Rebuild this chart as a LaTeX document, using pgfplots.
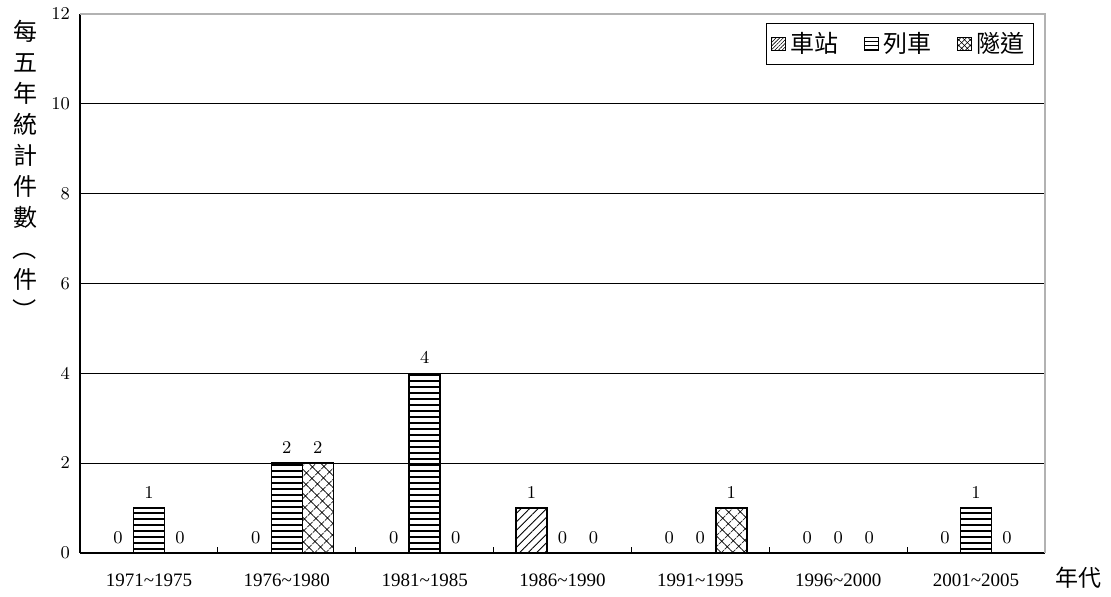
\documentclass[border=0pt]{standalone}
\usepackage{fontspec}
\usepackage{graphicx}
\setmainfont{Liberation Serif}
\newfontfamily\cjk{Noto Sans CJK TC}
\usepackage{pgfplots}
\pgfplotsset{compat=1.18}
\usetikzlibrary{patterns.meta}

\tikzset{
  stationfill/.style={pattern={Lines[angle=45,distance=3pt,line width=0.45pt]}, pattern color=black},
  trainfill/.style={pattern={Lines[angle=0,distance=3pt,line width=0.7pt]}, pattern color=black},
  tunnelfill/.style={pattern={Hatch[angle=45,distance=4pt,line width=0.45pt]}, pattern color=black},
}
% vertical-style brackets for the stacked axis title
\newcommand\vopen{\rotatebox[origin=c]{-90}{（}}
\newcommand\vclose{\rotatebox[origin=c]{-90}{）}}

\begin{document}
\begin{tikzpicture}
\begin{axis}[
  scale only axis, width=482.5pt, height=269.5pt,
  xmin=-0.5, xmax=6.5, ymin=0, ymax=12,
  ybar=0pt, bar width=15.5pt,
  axis x line*=bottom, axis y line*=left,
  axis line style={black, line width=0.6pt},
  tick align=inside,
  xtick={0,...,6},
  xticklabels={1971\textasciitilde 1975,1976\textasciitilde 1980,1981\textasciitilde 1985,1986\textasciitilde 1990,1991\textasciitilde 1995,1996\textasciitilde 2000,2001\textasciitilde 2005},
  major x tick style={draw=none},
  minor xtick={0.5,1.5,...,5.5},
  minor tick length=3pt,
  major tick length=2.5pt,
  tick style={black, line width=0.6pt},
  ytick={0,2,...,10},
  extra y ticks={12},
  extra y tick style={grid=none},
  ymajorgrids,
  grid style={black, line width=0.5pt},
  ticklabel style={font=\fontsize{9.5}{10}\selectfont},
  xticklabel style={yshift=-7pt},
  yticklabel style={xshift=-1.5pt},
  nodes near coords,
  every node near coord/.append style={anchor=south, font=\fontsize{9.5}{10}\selectfont, yshift=1pt},
  legend columns=3,
  legend style={at={(0.9886,0.9833)}, anchor=north east, draw=black, line width=0.6pt,
    font=\cjk\fontsize{12}{14}\selectfont, inner sep=2.5pt,
    /tikz/every odd column/.append style={column sep=0.5pt},
    /tikz/every even column/.append style={column sep=11pt}},
  legend image code/.code={\draw[#1, line width=0.4pt] (0pt,-3.3pt) rectangle (6.6pt,3.3pt);},
  extra description/.code={\draw[gray!60, line width=0.6pt] (0,1) -- (1,1) -- (1,0);},
]
\addlegendimage{draw=black, pattern={Lines[angle=45,distance=1.3pt,line width=0.3pt]}, pattern color=black}
\addlegendentry{車站}
\addlegendimage{draw=black, pattern={Lines[angle=0,distance=2pt,line width=0.3pt]}, pattern color=black}
\addlegendentry{列車}
\addlegendimage{draw=black, pattern={Hatch[angle=45,distance=2pt,line width=0.3pt]}, pattern color=black}
\addlegendentry{隧道}

% 車站
\addplot[forget plot, bar shift=-15.5pt, draw=black, line width=0.7pt, stationfill]
  coordinates {(0,0) (1,0) (2,0) (3,1) (4,0) (5,0) (6,0)};
% 列車
\addplot[forget plot, bar shift=0pt, draw=black, line width=0.7pt, trainfill]
  coordinates {(0,1) (1,2) (2,4) (3,0) (4,0) (5,0) (6,1)};
% 隧道
\addplot[forget plot, bar shift=15.5pt, draw=black, line width=0.7pt, tunnelfill]
  coordinates {(0,0) (1,2) (2,0) (3,0) (4,1) (5,0) (6,0)};
\end{axis}

\node[anchor=north, align=center, inner sep=0pt, font=\cjk\fontsize{12}{15.5}\selectfont]
  at ([xshift=-27.5pt,yshift=-3pt]current axis.north west)
  {每\\五\\年\\統\\計\\件\\數\\\vopen\\件\\\vclose};
\node[anchor=west, inner sep=0pt, font=\cjk\fontsize{11.5}{13}\selectfont]
  at ([xshift=5pt,yshift=-12.5pt]current axis.south east) {年代};

\path ([xshift=-40pt,yshift=-22pt]current axis.south west) rectangle ++(555.5pt,298.5pt);
\end{tikzpicture}
\end{document}
